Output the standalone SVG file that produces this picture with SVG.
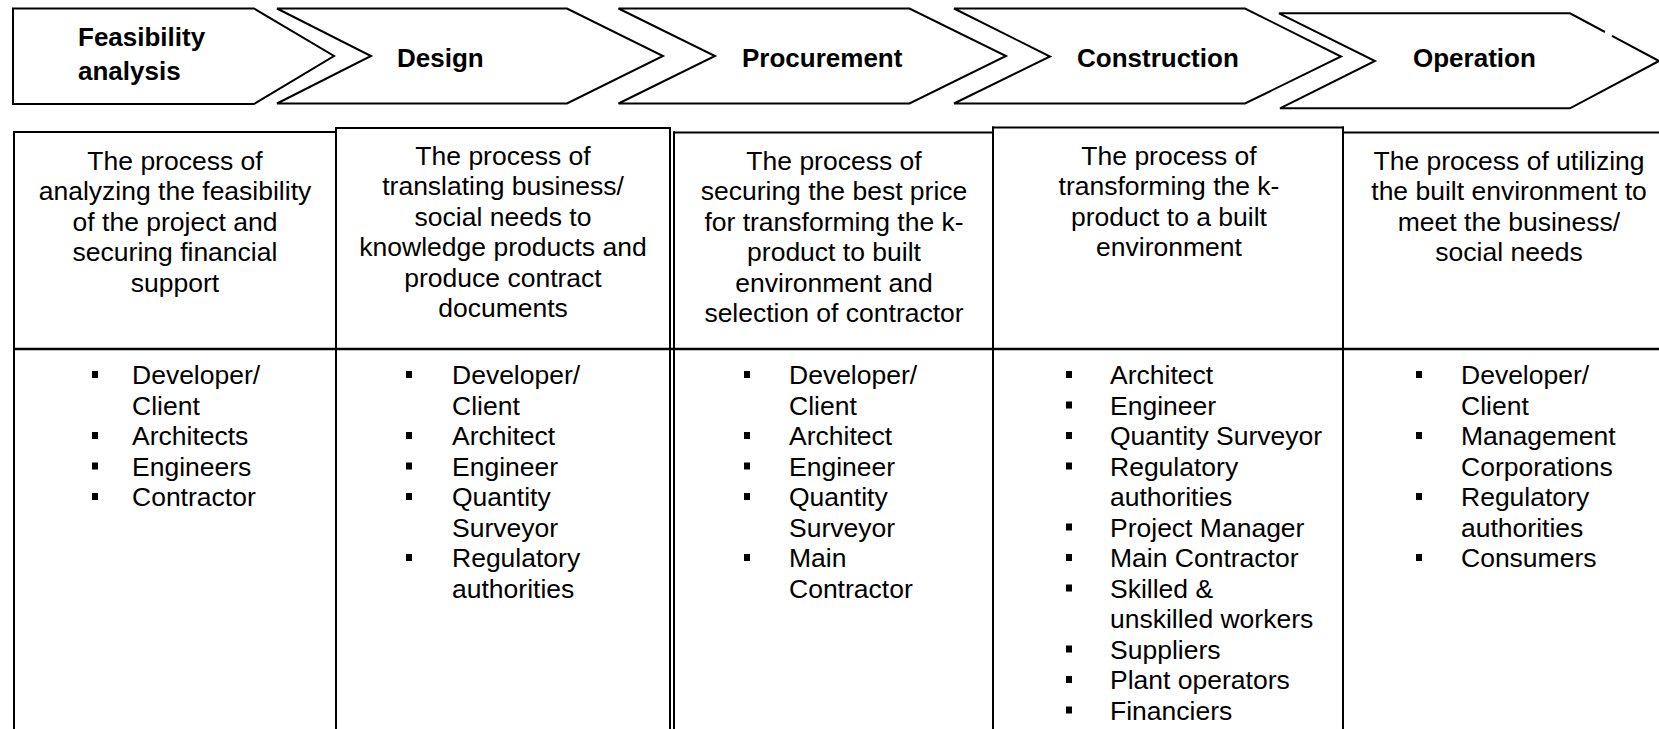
<svg xmlns="http://www.w3.org/2000/svg" width="1659" height="729" viewBox="0 0 1659 729">
  <style>
    .stage { fill: #ffffff; stroke: #000000; stroke-width: 2; stroke-linejoin: miter; }
    .stage-edge { fill: none; stroke: #000000; stroke-width: 2; stroke-linejoin: miter; }
    .stage-title { font-family: "Liberation Sans", Arial, sans-serif; font-size: 26px; font-weight: bold; fill: #000000; }
    .grid { stroke: #000000; stroke-width: 2; fill: none; }
    .grid-thick { stroke: #000000; stroke-width: 2.6; fill: none; }
    .desc { font-family: "Liberation Sans", Arial, sans-serif; font-size: 26.5px; fill: #000000; text-anchor: middle; }
    .item { font-family: "Liberation Sans", Arial, sans-serif; font-size: 26.5px; fill: #000000; }
  </style>
  <defs>
    <rect id="bullet" x="0" y="0" width="6" height="7" fill="#000000"/>
  </defs>

  <rect x="0" y="0" width="1659" height="729" fill="#ffffff"/>

  <!-- stage chevrons -->
  <g id="stage-feasibility">
    <polygon class="stage" points="13,8.5 254,8.5 334,56 254,104 13,104"/>
    <text class="stage-title" x="78" y="46">Feasibility</text>
    <text class="stage-title" x="78" y="80">analysis</text>
  </g>
  <g id="stage-design">
    <polygon class="stage" points="277,8.5 567,8.5 663,56 567,103.5 277,103.5 371,56"/>
    <text class="stage-title" x="397" y="67">Design</text>
  </g>
  <g id="stage-procurement">
    <polygon class="stage" points="618.5,8.5 909.5,8.5 1006,56 909.5,103.5 618.5,103.5 715,56"/>
    <text class="stage-title" x="742" y="67">Procurement</text>
  </g>
  <g id="stage-construction">
    <polygon class="stage" points="954,8.5 1245,8.5 1341,56.5 1245,103.5 954,103.5 1050,56.5"/>
    <text class="stage-title" x="1077" y="67">Construction</text>
  </g>
  <g id="stage-operation">
    <polygon points="1279,13.3 1570,13.3 1659,61 1570,108.3 1280,108.3 1375,61" fill="#ffffff"/>
    <path class="stage-edge" d="M1612,35.8 L1659,61 L1570,108.3 L1280,108.3 L1375,61 L1279,13.3 L1570,13.3 L1605,32"/>
    <text class="stage-title" x="1413" y="67">Operation</text>
  </g>

  <!-- table rules -->
  <g id="table-rules">
    <line class="grid" x1="13" y1="132" x2="337" y2="132"/>
    <line class="grid" x1="335" y1="128" x2="671" y2="128"/>
    <line class="grid" x1="673" y1="132.5" x2="994" y2="132.5"/>
    <line class="grid" x1="992" y1="127.5" x2="1344" y2="127.5"/>
    <line class="grid" x1="1342" y1="132.5" x2="1659" y2="132.5"/>
    <line class="grid" x1="14" y1="131" x2="14" y2="729"/>
    <line class="grid" x1="336" y1="127" x2="336" y2="729"/>
    <line class="grid" x1="670" y1="127" x2="670" y2="729"/>
    <line class="grid" x1="674" y1="131.5" x2="674" y2="729"/>
    <line class="grid" x1="993" y1="126.5" x2="993" y2="729"/>
    <line class="grid" x1="1343" y1="126.5" x2="1343" y2="729"/>
    <line class="grid-thick" x1="13" y1="349" x2="1659" y2="349"/>
  </g>

  <!-- column: feasibility analysis -->
  <g id="col-feasibility">
    <text class="desc" x="175" y="169.5">The process of</text>
    <text class="desc" x="175" y="200">analyzing the feasibility</text>
    <text class="desc" x="175" y="230.5">of the project and</text>
    <text class="desc" x="175" y="261">securing financial</text>
    <text class="desc" x="175" y="291.5">support</text>
    <use href="#bullet" x="92" y="371"/>
    <text class="item" x="132" y="384">Developer/</text>
    <text class="item" x="132" y="414.5">Client</text>
    <use href="#bullet" x="92" y="432"/>
    <text class="item" x="132" y="445">Architects</text>
    <use href="#bullet" x="92" y="462.5"/>
    <text class="item" x="132" y="475.5">Engineers</text>
    <use href="#bullet" x="92" y="493"/>
    <text class="item" x="132" y="506">Contractor</text>
  </g>

  <!-- column: design -->
  <g id="col-design">
    <text class="desc" x="503" y="164.5">The process of</text>
    <text class="desc" x="503" y="195">translating business/</text>
    <text class="desc" x="503" y="225.5">social needs to</text>
    <text class="desc" x="503" y="256">knowledge products and</text>
    <text class="desc" x="503" y="286.5">produce contract</text>
    <text class="desc" x="503" y="317">documents</text>
    <use href="#bullet" x="406" y="371"/>
    <text class="item" x="452" y="384">Developer/</text>
    <text class="item" x="452" y="414.5">Client</text>
    <use href="#bullet" x="406" y="432"/>
    <text class="item" x="452" y="445">Architect</text>
    <use href="#bullet" x="406" y="462.5"/>
    <text class="item" x="452" y="475.5">Engineer</text>
    <use href="#bullet" x="406" y="493"/>
    <text class="item" x="452" y="506">Quantity</text>
    <text class="item" x="452" y="536.5">Surveyor</text>
    <use href="#bullet" x="406" y="554"/>
    <text class="item" x="452" y="567">Regulatory</text>
    <text class="item" x="452" y="597.5">authorities</text>
  </g>

  <!-- column: procurement -->
  <g id="col-procurement">
    <text class="desc" x="834" y="169.5">The process of</text>
    <text class="desc" x="834" y="200">securing the best price</text>
    <text class="desc" x="834" y="230.5">for transforming the k-</text>
    <text class="desc" x="834" y="261">product to built</text>
    <text class="desc" x="834" y="291.5">environment and</text>
    <text class="desc" x="834" y="322">selection of contractor</text>
    <use href="#bullet" x="744" y="371"/>
    <text class="item" x="789" y="384">Developer/</text>
    <text class="item" x="789" y="414.5">Client</text>
    <use href="#bullet" x="744" y="432"/>
    <text class="item" x="789" y="445">Architect</text>
    <use href="#bullet" x="744" y="462.5"/>
    <text class="item" x="789" y="475.5">Engineer</text>
    <use href="#bullet" x="744" y="493"/>
    <text class="item" x="789" y="506">Quantity</text>
    <text class="item" x="789" y="536.5">Surveyor</text>
    <use href="#bullet" x="744" y="554"/>
    <text class="item" x="789" y="567">Main</text>
    <text class="item" x="789" y="597.5">Contractor</text>
  </g>

  <!-- column: construction -->
  <g id="col-construction">
    <text class="desc" x="1169" y="164.5">The process of</text>
    <text class="desc" x="1169" y="195">transforming the k-</text>
    <text class="desc" x="1169" y="225.5">product to a built</text>
    <text class="desc" x="1169" y="256">environment</text>
    <use href="#bullet" x="1066" y="371"/>
    <text class="item" x="1110" y="384">Architect</text>
    <use href="#bullet" x="1066" y="401.5"/>
    <text class="item" x="1110" y="414.5">Engineer</text>
    <use href="#bullet" x="1066" y="432"/>
    <text class="item" x="1110" y="445">Quantity Surveyor</text>
    <use href="#bullet" x="1066" y="462.5"/>
    <text class="item" x="1110" y="475.5">Regulatory</text>
    <text class="item" x="1110" y="506">authorities</text>
    <use href="#bullet" x="1066" y="523.5"/>
    <text class="item" x="1110" y="536.5">Project Manager</text>
    <use href="#bullet" x="1066" y="554"/>
    <text class="item" x="1110" y="567">Main Contractor</text>
    <use href="#bullet" x="1066" y="584.5"/>
    <text class="item" x="1110" y="597.5">Skilled &amp;</text>
    <text class="item" x="1110" y="628">unskilled workers</text>
    <use href="#bullet" x="1066" y="645.5"/>
    <text class="item" x="1110" y="658.5">Suppliers</text>
    <use href="#bullet" x="1066" y="676"/>
    <text class="item" x="1110" y="689">Plant operators</text>
    <use href="#bullet" x="1066" y="706.5"/>
    <text class="item" x="1110" y="719.5">Financiers</text>
  </g>

  <!-- column: operation -->
  <g id="col-operation">
    <text class="desc" x="1509" y="169.5">The process of utilizing</text>
    <text class="desc" x="1509" y="200">the built environment to</text>
    <text class="desc" x="1509" y="230.5">meet the business/</text>
    <text class="desc" x="1509" y="261">social needs</text>
    <use href="#bullet" x="1416" y="371"/>
    <text class="item" x="1461" y="384">Developer/</text>
    <text class="item" x="1461" y="414.5">Client</text>
    <use href="#bullet" x="1416" y="432"/>
    <text class="item" x="1461" y="445">Management</text>
    <text class="item" x="1461" y="475.5">Corporations</text>
    <use href="#bullet" x="1416" y="493"/>
    <text class="item" x="1461" y="506">Regulatory</text>
    <text class="item" x="1461" y="536.5">authorities</text>
    <use href="#bullet" x="1416" y="554"/>
    <text class="item" x="1461" y="567">Consumers</text>
  </g>
</svg>
